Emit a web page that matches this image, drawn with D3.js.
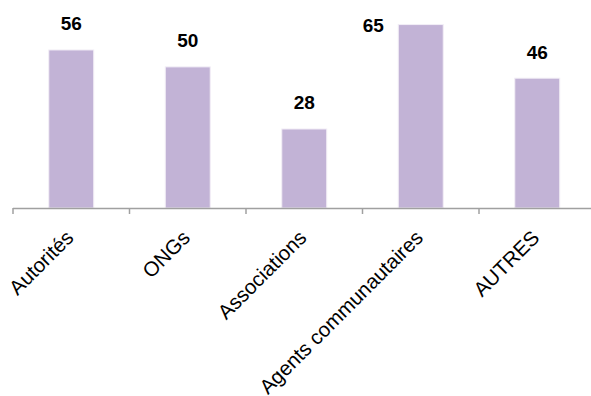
<!DOCTYPE html>
<html>
<head>
<meta charset="utf-8">
<script src="https://cdn.jsdelivr.net/npm/d3@7"></script>
<style>
  html, body { margin: 0; padding: 0; background: #fff; }
  svg { display: block; font-family: Arial, "Liberation Sans", sans-serif; }
</style>
</head>
<body>
<svg id="chart" width="591" height="396"></svg>
<script>
// Categories and their counts
const categories = ["Autorités", "ONGs", "Associations", "Agents communautaires", "AUTRES"];
const values = [56, 50, 28, 65, 46];

const W = 591, H = 396;
const axisY = 208;

const svg = d3.select("#chart");

const x = d3.scaleBand()
  .domain(categories)
  .range([13, 595.5])
  .paddingInner(0.614)
  .paddingOuter(0.307);

const y = d3.scaleLinear()
  .domain([0, 73.7])
  .range([axisY, 0]);

const data = categories.map((c, i) => ({ cat: c, val: values[i] }));

// Bars
svg.append("g")
  .selectAll("rect")
  .data(data)
  .join("rect")
  .attr("x", d => x(d.cat))
  .attr("y", d => y(d.val))
  .attr("width", x.bandwidth())
  .attr("height", d => axisY - y(d.val))
  .attr("fill", "#c2b3d6")
  .attr("stroke", "#f2eef6")
  .attr("stroke-width", 1);

// Value labels above bars; when there is no room above, put it beside the bar
const noRoom = d => y(d.val) - 19.5 < 18;
svg.append("g")
  .selectAll("text")
  .data(data)
  .join("text")
  .attr("x", d => noRoom(d) ? x(d.cat) - 25 : x(d.cat) + x.bandwidth() / 2)
  .attr("y", d => noRoom(d) ? y(d.val) + 7.5 : y(d.val) - 19.5)
  .attr("text-anchor", "middle")
  .attr("font-size", 19)
  .attr("font-weight", "bold")
  .attr("fill", "#000")
  .text(d => d.val);

// Category axis
const axis = svg.append("g")
  .attr("transform", `translate(0,${axisY})`)
  .call(d3.axisBottom(x).tickSize(0).tickSizeOuter(0));

axis.select(".domain")
  .attr("d", `M13,0.5H${W}`)
  .attr("stroke", "#a0a0a0")
  .attr("stroke-width", 1.5);

axis.selectAll(".tick text")
  .attr("font-size", 20.5)
  .attr("font-family", "Arial, 'Liberation Sans', sans-serif")
  .attr("fill", "#000")
  .attr("text-anchor", "end")
  .attr("dy", 0)
  .attr("y", 0)
  .attr("transform", "translate(3.5,31) rotate(-45)");

// Tick marks at category boundaries
const step = x.step();
const bounds = categories.map((c, i) => 13 + i * step);
axis.append("g")
  .selectAll("line")
  .data(bounds)
  .join("line")
  .attr("x1", d => d)
  .attr("x2", d => d)
  .attr("y1", 0)
  .attr("y2", 6)
  .attr("stroke", "#a0a0a0")
  .attr("stroke-width", 1.5);
</script>
</body>
</html>
